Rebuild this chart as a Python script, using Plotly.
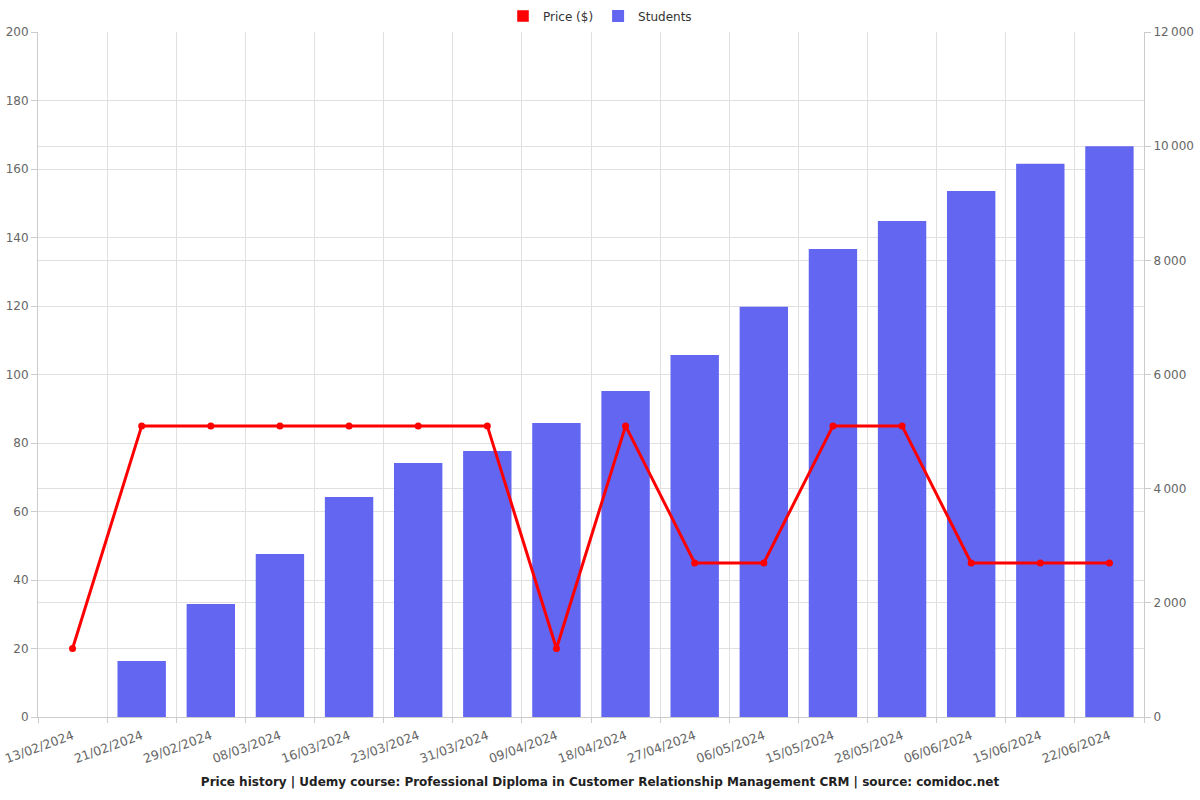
import plotly.graph_objects as go

dates = ["13/02/2024", "21/02/2024", "29/02/2024", "08/03/2024", "16/03/2024",
         "23/03/2024", "31/03/2024", "09/04/2024", "18/04/2024", "27/04/2024",
         "06/05/2024", "15/05/2024", "28/05/2024", "06/06/2024", "15/06/2024",
         "22/06/2024"]
price = [19.99, 84.99, 84.99, 84.99, 84.99, 84.99, 84.99, 19.99, 84.99, 44.99,
         44.99, 84.99, 84.99, 44.99, 44.99, 44.99]
students = [None, 980, 1980, 2855, 3855, 4450, 4660, 5150, 5710, 6340,
            7185, 8200, 8690, 9215, 9690, 10000]

title = ("Price history | Udemy course: Professional Diploma in Customer "
         "Relationship Management CRM | source: comidoc.net")

fig = go.Figure()
# legend swatch helper for price (rectangle style like reference)
fig.add_trace(go.Bar(x=dates, y=[None] * len(dates), name="Price ($)",
                     marker=dict(color="#FF0000"), yaxis="y2", showlegend=True,
                     hoverinfo="skip"))
fig.add_trace(go.Bar(x=dates, y=students, name="Students",
                     marker=dict(color="#6366F1", line=dict(width=0)), yaxis="y"))
fig.add_trace(go.Scatter(x=dates, y=price, name="Price ($)", mode="lines+markers",
                         line=dict(color="#FF0000", width=3),
                         marker=dict(color="#FF0000", size=7),
                         yaxis="y2", showlegend=False))

grid = "#E0E0E0"
tickfont = dict(family="DejaVu Sans", size=12, color="#666666")
xtickfont = dict(family="DejaVu Sans", size=12.5, color="#666666")
fig.update_layout(
    width=1200, height=800,
    margin=dict(l=38, r=56, t=32, b=83),
    plot_bgcolor="white", paper_bgcolor="white",
    separators=".\u2009",
    barmode="overlay", bargap=0.3,
    font=dict(family="DejaVu Sans", color="#666666"),
    xaxis=dict(type="category", tickson="boundaries", showgrid=True,
               range=[-0.5, len(dates) - 0.5], automargin=False,
               gridcolor=grid, tickangle=-20, ticks="outside", ticklen=5,
               ticklabelstandoff=6,
               tickcolor="#CCCCCC", tickfont=xtickfont, showline=True,
               linecolor="#CCCCCC", zeroline=False),
    yaxis=dict(side="right", range=[0, 12000], dtick=2000, showgrid=True,
               tickformat=",d", automargin=False,
               gridcolor=grid, ticks="outside", ticklen=6, tickcolor="#CCCCCC",
               tickfont=tickfont, showline=True, linecolor="#CCCCCC",
               zeroline=False),
    yaxis2=dict(side="left", overlaying="y", range=[0, 200], dtick=20,
                automargin=False,
                showgrid=True, gridcolor=grid, ticks="outside", ticklen=6,
                tickcolor="#CCCCCC", tickfont=tickfont, showline=True,
                linecolor="#CCCCCC", zeroline=False),
    legend=dict(orientation="h", xref="container", yref="container",
                x=0.5, xanchor="center", y=0.98, yanchor="middle",
                font=dict(family="DejaVu Sans", size=12, color="#333333"),
                traceorder="normal"),
    title=dict(text="<b>" + title + "</b>", xref="container", yref="container",
               x=0.5, xanchor="center", y=0.0225, yanchor="middle",
               font=dict(family="DejaVu Sans", size=12, color="#222222")),
)

fig.write_html("out.html")
